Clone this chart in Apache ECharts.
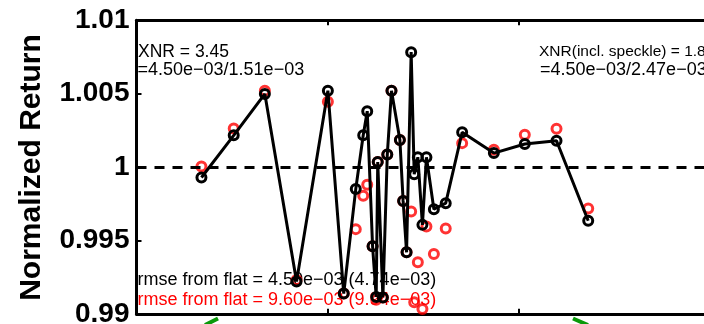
<!DOCTYPE html>
<html>
<head>
<meta charset="utf-8">
<script src="https://cdn.jsdelivr.net/npm/echarts@6/dist/echarts.min.js"></script>
<style>
  html, body { margin: 0; padding: 0; background: #fff; }
  #chart { width: 704px; height: 324px; }
</style>
</head>
<body>
<div id="chart"></div>
<script>
// Sample positions along the scan (x axis units)
const positions = [0.340, 0.509, 0.672, 0.838, 1.002, 1.085, 1.148, 1.187, 1.208, 1.236,
                   1.255, 1.263, 1.290, 1.313, 1.335, 1.379, 1.396, 1.414, 1.438, 1.454,
                   1.473, 1.497, 1.518, 1.557, 1.619, 1.705, 1.871, 2.033, 2.199, 2.365];

// Normalized return, corrected (black, connected)
const returnCorrected = [0.99929, 1.00216, 1.00498, 0.99220, 1.00520, 0.99138, 0.99850, 1.00217, 1.00381, 0.99460,
                         0.99115, 1.00034, 0.99111, 1.00085, 1.00520, 1.00184, 0.99769, 0.99419, 1.00783, 0.99951,
                         1.00067, 0.99606, 1.00067, 0.99713, 0.99754, 1.00237, 1.00095, 1.00157, 1.00179, 0.99634];

// Normalized return including speckle (red markers)
const returnSpeckle = [1.00004, 1.00263, 1.00520, 0.99231, 1.00445, 0.99138, 0.99577, 0.99804, 0.99879, 0.99460,
                       0.99095, 1.00034, 0.99111, 1.00085, 1.00520, 1.00184, 0.99769, 0.99419, 0.99697, 0.99079,
                       0.99352, 0.99033, 0.99595, 0.99407, 0.99582, 1.00163, 1.00118, 1.00220, 1.00261, 0.99718];

const flatLevel = 1;
const yTickLabels = ['0.99', '0.995', '1', '1.005', '1.01'];
const yMin = 0.99, yMax = 1.01, yStep = 0.005;

const annotations = {
  xnrLine1: 'XNR = 3.45',
  xnrLine2: '=4.50e\u221203/1.51e\u221203',
  xnrSpeckle1: 'XNR(incl. speckle) = 1.85',
  xnrSpeckle2: '=4.50e\u221203/2.47e\u221203',
  rmseBlack: 'rmse from flat = 4.50e\u221203 (4.74e\u221203)',
  rmseRed: 'rmse from flat = 9.60e\u221203 (9.94e\u221203)'
};

const FONT = '"Liberation Sans", Arial, Helvetica, sans-serif';

const chart = echarts.init(document.getElementById('chart'), null, { renderer: 'canvas' });

const zip = (xs, ys) => xs.map((x, i) => [x, ys[i]]);

// plain text annotation, top-anchored
const note = (text, x, y, size, color) => ({
  type: 'text', x, y, z: 1,
  style: { text, font: size + 'px ' + FONT, fill: color, textVerticalAlign: 'top' }
});

const axisTickStyle = { show: true, inside: true, length: 5, lineStyle: { color: '#000', width: 2 } };
const axisLineStyle = { show: true, lineStyle: { color: '#000', width: 3 } };

chart.setOption({
  animation: false,
  backgroundColor: '#fff',
  grid: {
    left: 136.5, top: 20.3, width: 764, height: 293.5,
    containLabel: false, outerBoundsMode: 'none'
  },
  xAxis: [
    {
      type: 'value', position: 'bottom', min: 0, max: 4, interval: 1,
      axisLine: axisLineStyle, axisTick: axisTickStyle,
      axisLabel: { show: false }, splitLine: { show: false }
    },
    {
      type: 'value', position: 'top', min: 0, max: 4, interval: 1,
      axisLine: axisLineStyle, axisTick: axisTickStyle,
      axisLabel: { show: false }, splitLine: { show: false }
    }
  ],
  yAxis: {
    type: 'value', min: yMin, max: yMax, interval: yStep,
    axisLine: axisLineStyle, axisTick: axisTickStyle,
    splitLine: { show: false },
    axisLabel: {
      margin: 7,
      color: '#000',
      fontFamily: FONT,
      fontWeight: 'bold',
      fontSize: 28,
      formatter: v => yTickLabels[Math.round((v - yMin) / yStep)]
    }
  },
  graphic: [
    {
      type: 'text', x: 32, y: 167.5, rotation: Math.PI / 2, z: 1,
      style: { text: 'Normalized Return', font: 'bold 30px ' + FONT, fill: '#000',
               textAlign: 'center', textVerticalAlign: 'middle' }
    },
    note(annotations.xnrLine1, 138, 43, 17.5, '#000'),
    note(annotations.xnrLine2, 137.5, 61.2, 18, '#000'),
    note(annotations.xnrSpeckle1, 539, 43.5, 15.5, '#000'),
    note(annotations.xnrSpeckle2, 540, 61.2, 18, '#000'),
    note(annotations.rmseBlack, 137.5, 271, 18, '#000'),
    note(annotations.rmseRed, 137.5, 291, 18, '#ff0000'),
    // edges of the green traces from the panel below
    { type: 'line', z: 1, shape: { x1: 205, y1: 325, x2: 218, y2: 318.5 },
      style: { stroke: '#0a9a0a', lineWidth: 4 } },
    { type: 'line', z: 1, shape: { x1: 573, y1: 318.5, x2: 588, y2: 325 },
      style: { stroke: '#0a9a0a', lineWidth: 4 } }
  ],
  series: [
    {
      name: 'incl. speckle',
      type: 'scatter',
      z: 3,
      data: zip(positions, returnSpeckle),
      symbol: 'circle',
      symbolSize: 9,
      itemStyle: { color: 'rgba(0,0,0,0)', borderColor: '#ff0000', borderWidth: 3 }
    },
    {
      name: 'corrected',
      type: 'line',
      z: 4,
      data: zip(positions, returnCorrected),
      symbol: 'circle',
      symbolSize: 9,
      showSymbol: true,
      lineStyle: { color: '#000', width: 3 },
      itemStyle: { color: 'rgba(0,0,0,0)', borderColor: '#000', borderWidth: 3 },
      markLine: {
        silent: true,
        symbol: ['none', 'none'],
        label: { show: false },
        lineStyle: { color: '#000', width: 3, type: [10, 8] },
        data: [{ yAxis: flatLevel }]
      }
    }
  ]
});
</script>
</body>
</html>
